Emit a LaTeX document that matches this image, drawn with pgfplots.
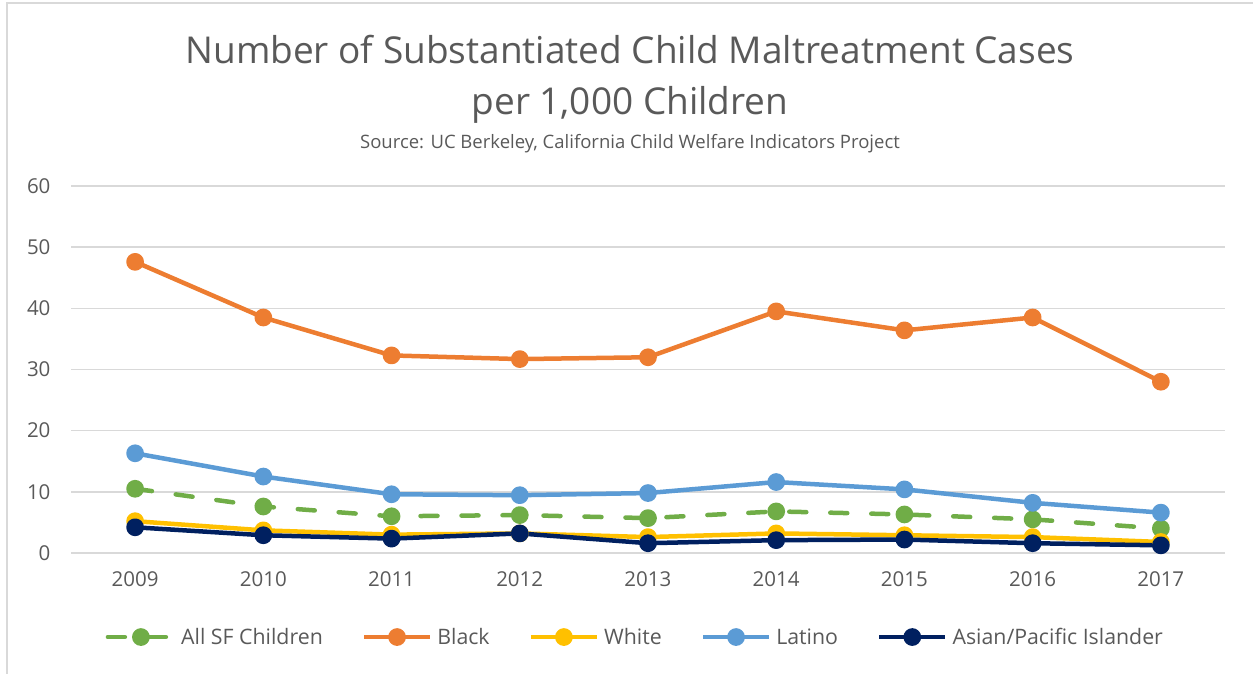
\documentclass[border=0pt]{standalone}
\usepackage{pgfplots}
\pgfplotsset{compat=1.18}
\usepackage{fontspec}
\setmainfont{Open Sans}

\definecolor{txt}{HTML}{595959}
\definecolor{gridgray}{HTML}{D9D9D9}
\definecolor{cAll}{HTML}{70AD47}
\definecolor{cBlack}{HTML}{ED7D31}
\definecolor{cWhite}{HTML}{FFC000}
\definecolor{cLatino}{HTML}{5B9BD5}
\definecolor{cAsian}{HTML}{002060}

\begin{document}
\begin{tikzpicture}[x=1pt,y=1pt]
\path[use as bounding box] (0,0) rectangle (1253,674);
% chart frame (only top and left edges are visible)
\draw[gridgray, line width=1.5pt] (7,0) -- (7,671) -- (1253,671);

\node[anchor=base, text=txt, font=\fontsize{37}{40}\selectfont] at (630,610.7) {Number of Substantiated Child Maltreatment Cases};
\node[anchor=base, text=txt, font=\fontsize{37}{40}\selectfont] at (630,559) {per 1,000 Children};
\node[anchor=base, text=txt, font=\fontsize{18.5}{20}\selectfont] at (630,525.7) {Source: UC Berkeley, California Child Welfare Indicators Project};

\begin{axis}[
    at={(71pt,121pt)}, anchor=south west,
    scale only axis, width=1154pt, height=367pt,
    xmin=2008.5, xmax=2017.5, ymin=0, ymax=60,
    xtick={2009,...,2017}, ytick={0,10,...,60},
    xticklabel style={/pgf/number format/1000 sep={}},
    /pgf/number format/assume math mode=true,
    xmajorgrids=false, ymajorgrids=true,
    major grid style={draw=gridgray, line width=1.5pt},
    axis line style={draw=none}, major tick length=0pt,
    tick label style={text=txt, font=\fontsize{20.5}{22}\selectfont},
    yticklabel style={xshift=-17pt},
    xticklabel style={yshift=-15pt},
    every axis plot/.append style={line width=4.5pt, line join=round, mark=*, mark size=6.6pt},
    legend columns=5,
    legend style={at={(0.489,-0.229)}, anchor=center, draw=none, fill=none,
        font=\fontsize{21.3}{23}\selectfont, text=txt,
        /tikz/every even column/.append style={column sep=37pt},
        /tikz/every odd column/.append style={column sep=3pt}},
    legend image code/.code={\draw[mark repeat=2, mark phase=2, #1] plot coordinates {(0pt,0pt) (33pt,0pt) (66pt,0pt)};},
]
\addplot[cAll, line cap=round, dash pattern=on 17pt off 24pt, mark options={solid}] coordinates {
 (2009,10.5) (2010,7.6) (2011,6.0) (2012,6.2) (2013,5.7) (2014,6.8) (2015,6.3) (2016,5.5) (2017,4.0)};
\addlegendentry{All SF Children}
\addplot[cBlack] coordinates {
 (2009,47.6) (2010,38.5) (2011,32.3) (2012,31.7) (2013,32.0) (2014,39.5) (2015,36.4) (2016,38.5) (2017,28.0)};
\addlegendentry{Black}
\addplot[cWhite] coordinates {
 (2009,5.2) (2010,3.7) (2011,3.0) (2012,3.2) (2013,2.6) (2014,3.2) (2015,2.9) (2016,2.6) (2017,1.8)};
\addlegendentry{White}
\addplot[cLatino] coordinates {
 (2009,16.3) (2010,12.5) (2011,9.6) (2012,9.45) (2013,9.8) (2014,11.6) (2015,10.4) (2016,8.2) (2017,6.6)};
\addlegendentry{Latino}
\addplot[cAsian] coordinates {
 (2009,4.2) (2010,2.9) (2011,2.35) (2012,3.2) (2013,1.6) (2014,2.1) (2015,2.2) (2016,1.6) (2017,1.25)};
\addlegendentry{Asian/Pacific Islander}
\end{axis}
\end{tikzpicture}
\end{document}
